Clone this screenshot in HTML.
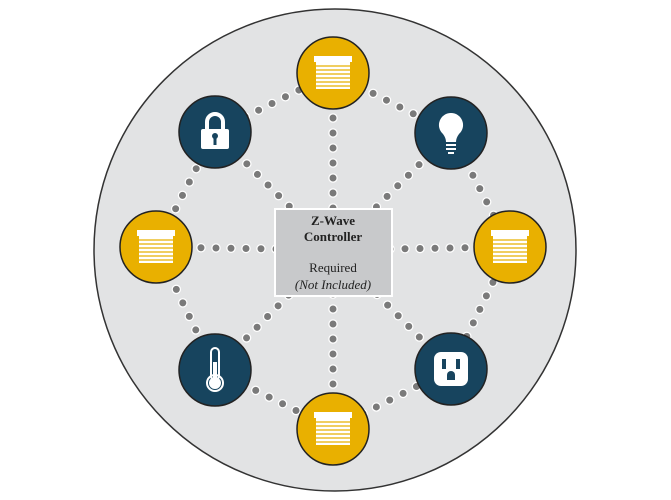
<!DOCTYPE html>
<html><head><meta charset="utf-8"><style>
html,body{margin:0;padding:0;background:#fff;width:671px;height:500px;overflow:hidden}
svg{display:block}
text{font-family:"Liberation Serif",serif}
</style></head><body>
<svg width="671" height="500" viewBox="0 0 671 500">
<defs>
<g id="blind">
  <rect x="-19" y="-17" width="38" height="6" fill="#fff"/>
  <rect x="-17" y="-11" width="34" height="27" fill="#fff"/>
  <g stroke="#e7b000" stroke-width="1.2">
    <line x1="-17" y1="-7" x2="17" y2="-7"/><line x1="-17" y1="-3" x2="17" y2="-3"/>
    <line x1="-17" y1="1" x2="17" y2="1"/><line x1="-17" y1="5" x2="17" y2="5"/>
    <line x1="-17" y1="9" x2="17" y2="9"/><line x1="-17" y1="13" x2="17" y2="13"/>
  </g>
</g>
</defs>
<circle cx="335" cy="250" r="241" fill="#e2e3e4" stroke="#333" stroke-width="1.5"/>
<g fill="none" stroke-linecap="round">
  <g stroke="#fff" stroke-width="9.5" stroke-dasharray="0 15">
    <path d="M333 73 L451 133 L510 247 L451 369 L333 429 L215 370 L156 247 L215 132 Z"/>
    <path d="M333 73 L333 250 M333 429 L333 250 M156 247 L333 250 M510 247 L333 250 M215 132 L333 250 M451 133 L333 250 M215 370 L333 250 M451 369 L333 250"/>
  </g>
  <g stroke="#7a7a7a" stroke-width="7" stroke-dasharray="0 15">
    <path d="M333 73 L451 133 L510 247 L451 369 L333 429 L215 370 L156 247 L215 132 Z"/>
    <path d="M333 73 L333 250 M333 429 L333 250 M156 247 L333 250 M510 247 L333 250 M215 132 L333 250 M451 133 L333 250 M215 370 L333 250 M451 369 L333 250"/>
  </g>
</g>
<rect x="275" y="209" width="117" height="87" fill="#c8c9cb" stroke="#fff" stroke-width="2"/>
<text x="333" y="225" text-anchor="middle" font-size="13" font-weight="bold" fill="#222">Z-Wave</text>
<text x="333" y="241" text-anchor="middle" font-size="13" font-weight="bold" fill="#222">Controller</text>
<text x="333" y="272" text-anchor="middle" font-size="13" fill="#222">Required</text>
<text x="333" y="289" text-anchor="middle" font-size="13" font-style="italic" fill="#222">(Not Included)</text>
<g stroke="#222" stroke-width="1.5">
  <circle cx="333" cy="73" r="36" fill="#e9b000"/>
  <circle cx="333" cy="429" r="36" fill="#e9b000"/>
  <circle cx="156" cy="247" r="36" fill="#e9b000"/>
  <circle cx="510" cy="247" r="36" fill="#e9b000"/>
  <circle cx="215" cy="132" r="36" fill="#17445e"/>
  <circle cx="451" cy="133" r="36" fill="#17445e"/>
  <circle cx="215" cy="370" r="36" fill="#17445e"/>
  <circle cx="451" cy="369" r="36" fill="#17445e"/>
</g>
<use href="#blind" x="333" y="73"/>
<use href="#blind" x="333" y="429"/>
<use href="#blind" x="156" y="247"/>
<use href="#blind" x="510" y="247"/>
<!-- lock -->
<g transform="translate(215,132)">
  <path d="M-8 -3 V-10 A8 8 0 0 1 8 -10 V-3" fill="none" stroke="#fff" stroke-width="4"/>
  <rect x="-14" y="-3" width="28" height="20" rx="2" fill="#fff"/>
  <circle cx="0" cy="4" r="3" fill="#17445e"/><rect x="-1.5" y="5" width="3" height="8" fill="#17445e"/>
</g>
<!-- bulb -->
<g transform="translate(451,133)" fill="#fff">
  <path d="M0 -20 A12 12 0 0 1 8 1 Q5 5 5 9 H-5 Q-5 5 -8 1 A12 12 0 0 1 0 -20 Z"/>
  <rect x="-5" y="11" width="10" height="2"/><rect x="-5" y="15" width="10" height="2"/><rect x="-3" y="19" width="6" height="2"/>
</g>
<!-- thermometer -->
<g transform="translate(215,370)">
  <rect x="-4" y="-22" width="8" height="32" rx="4" fill="none" stroke="#fff" stroke-width="2"/>
  <circle cx="0" cy="13" r="8" fill="none" stroke="#fff" stroke-width="2"/>
  <circle cx="0" cy="13" r="6" fill="#fff"/><rect x="-2" y="-8" width="4" height="20" fill="#fff"/>
</g>
<!-- outlet -->
<g transform="translate(451,369)">
  <rect x="-17" y="-17" width="34" height="34" rx="7" fill="#fff"/>
  <rect x="-9" y="-10" width="4" height="10" fill="#17445e"/><rect x="5" y="-10" width="4" height="10" fill="#17445e"/>
  <path d="M-4 11 V6 A4 4 0 0 1 4 6 V11 Z" fill="#17445e"/>
</g>
</svg>
</body></html>
